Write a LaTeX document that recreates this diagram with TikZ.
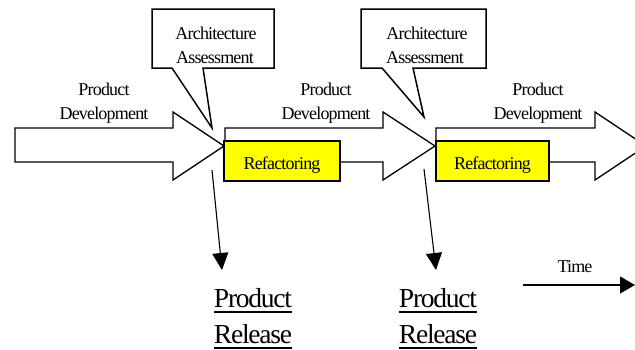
\documentclass[tikz,border=0pt]{standalone}
\usepackage{fontspec}
\setmainfont[LetterSpace=-4.5]{Liberation Serif}
\usetikzlibrary{arrows.meta}
\definecolor{refyellow}{HTML}{FFFF00}
\begin{document}
\begin{tikzpicture}[x=1pt,y=-1pt,
  bigarrow/.style={draw=black,fill=white,line width=1.3pt,line join=miter},
  refbox/.style={draw=black,fill=refyellow,line width=1.3pt},
  callout/.style={draw=black,fill=white,line width=1.5pt,line join=miter},
  txt/.style={inner sep=0pt,anchor=base,font=\fontsize{18}{22}\selectfont},
  reltxt/.style={inner sep=0pt,anchor=base,font=\fontsize{27.5}{33}\selectfont},
  relarrow/.style={line width=1.1pt,-{Triangle[length=17pt,width=16pt]}},
]
\useasboundingbox (0,0) rectangle (635,349);
\clip (0,0) rectangle (635,349);

% development phases as block arrows
\draw[bigarrow] (15,128) -- (173,128) -- (173,112) -- (224,146) -- (173,180) -- (173,162) -- (15,162) -- cycle;
\draw[bigarrow] (225,128) -- (383,128) -- (383,112) -- (435,146) -- (383,180) -- (383,162) -- (225,162) -- cycle;
\draw[bigarrow] (436,128) -- (595,128) -- (595,112) -- (646,146) -- (595,180) -- (595,162) -- (436,162) -- cycle;

% refactoring boxes
\draw[refbox] (224,141) rectangle (340,181);
\draw[refbox] (436,141) rectangle (549,181);
\node[txt] (ref1) at (282,169) {Refactoring};
\node[txt] (ref2) at (492.5,169) {Refactoring};

% phase labels
\node[txt] (pd1a) at (104,95) {Product};
\node[txt] (pd1b) at (104,119) {Development};
\node[txt] (pd2a) at (326,95) {Product};
\node[txt] (pd2b) at (326,119) {Development};
\node[txt] (pd3a) at (538,95) {Product};
\node[txt] (pd3b) at (538,119) {Development};

% assessment callouts
\draw[callout] (152,9) -- (274,9) -- (274,68) -- (203,68) -- (212,128) -- (172,68) -- (152,68) -- cycle;
\node[txt] (aa1a) at (216,39) {Architecture};
\node[txt] (aa1b) at (215,63) {Assessment};
\draw[callout] (361,9) -- (486,9) -- (486,68) -- (413,68) -- (424,117) -- (382,68) -- (361,68) -- cycle;
\node[txt] (aa2a) at (427,39) {Architecture};
\node[txt] (aa2b) at (425,63) {Assessment};

% product releases
\node[reltxt] (rel1a) at (253,307) {Product};
\node[reltxt] (rel1b) at (253,343) {Release};
\node[reltxt] (rel2a) at (438,307) {Product};
\node[reltxt] (rel2b) at (438,343) {Release};
\foreach \n in {rel1a,rel1b,rel2a,rel2b}
  \draw[line width=2pt] ([yshift=-5pt]\n.base west) -- ([yshift=-5pt]\n.base east);

\coordinate (s1) at (212,170);
\coordinate (e1) at (222,270);
\coordinate (s2) at (424,169);
\coordinate (e2) at (436,270);
\draw[relarrow] (s1) -- (e1);
\draw[relarrow] (s2) -- (e2);

% time axis
\node[txt] (time) at (575,272) {Time};
\coordinate (t0) at (523,285);
\coordinate (t1) at (635,285);
\draw[line width=1.1pt,-{Triangle[length=15pt,width=17pt]}] (t0) -- (t1);
\end{tikzpicture}
\end{document}
